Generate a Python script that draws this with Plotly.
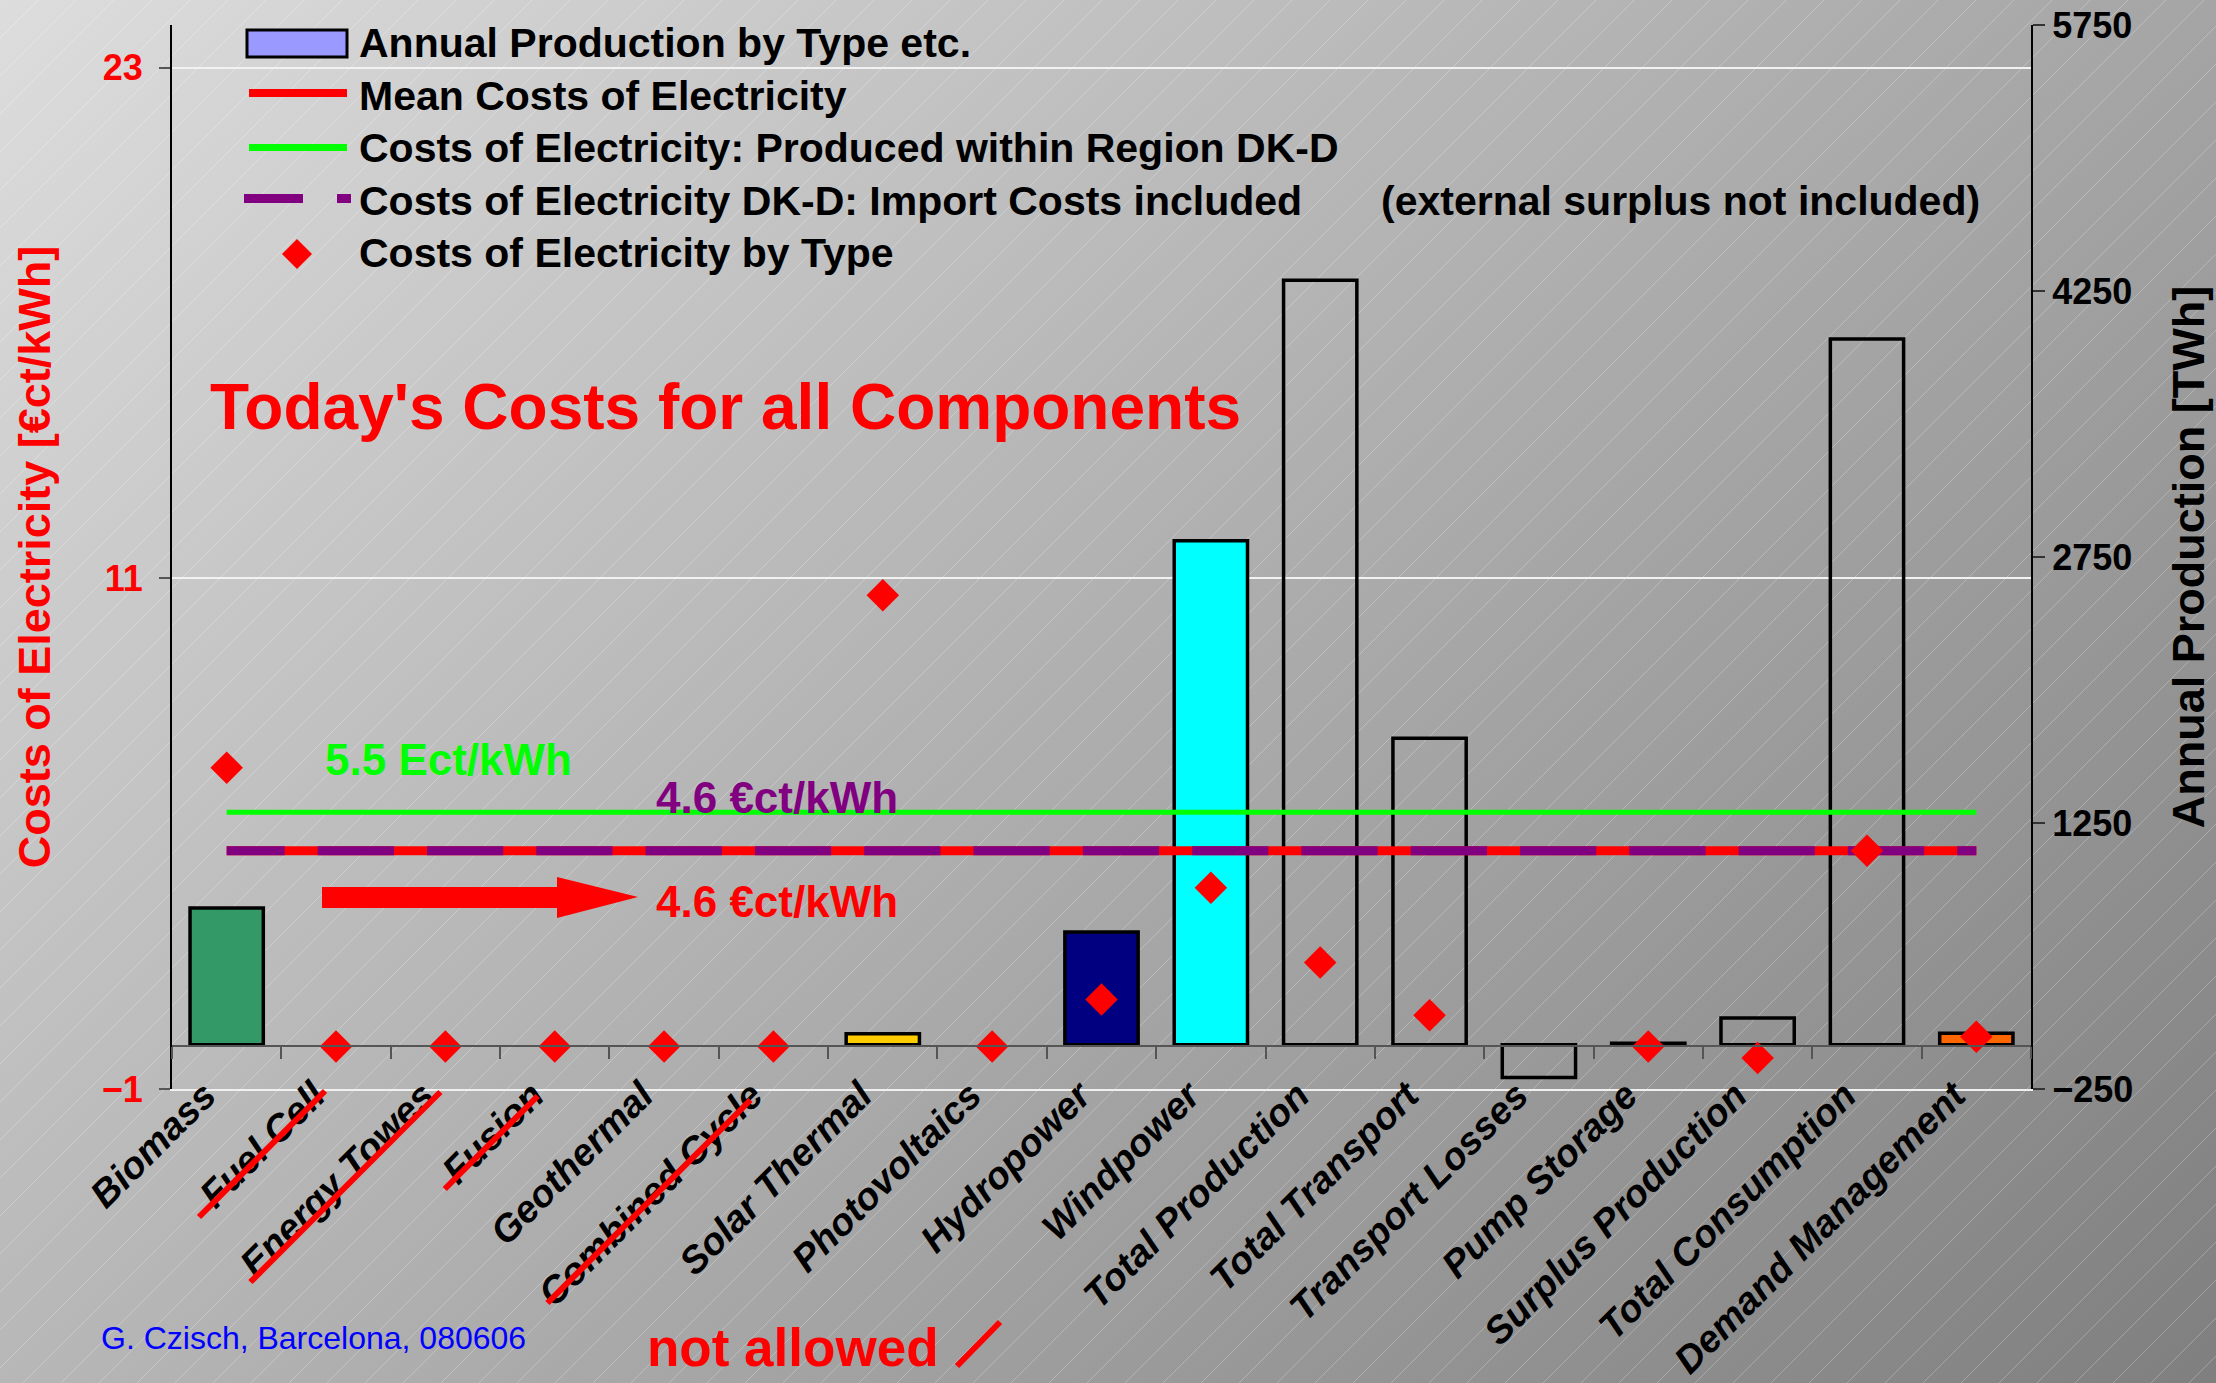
import base64
import plotly.graph_objects as go

# ---- data -------------------------------------------------------------
categories = [
    "Biomass", "Fuel Cell", "Energy Towes", "Fusion", "Geothermal",
    "Combined Cycle", "Solar Thermal", "Photovoltaics", "Hydropower",
    "Windpower", "Total Production", "Total Transport", "Transport Losses",
    "Pump Storage", "Surplus Production", "Total Consumption",
    "Demand Management",
]
production_twh = [770, 0, 0, 0, 0, 0, 62, 0, 636, 2842, 4310, 1728, -185,
                  8, 150, 3980, 65]
cost_by_type = [6.55, 0, 0, 0, 0, 0, 10.6, 0, 1.1, 3.73, 1.97, 0.73, None,
                0, -0.27, 4.6, 0.23]
bar_fill = ["#339966", None, None, None, None, None, "#FFCC00", None,
            "#000080", "#00FFFF", None, None, None, None, None, None,
            "#FF6600"]
mean_cost = 4.6          # mean costs of electricity
regional_cost = 5.5      # produced within region DK-D
import_cost = 4.6        # DK-D incl. import costs
not_allowed = ["Fuel Cell", "Energy Towes", "Fusion", "Combined Cycle"]

left_ticks = [-1, 11, 23]
right_ticks = [-250, 1250, 2750, 4250, 5750]

# ---- page geometry ----------------------------------------------------
W, H = 2216, 1383
L, R, T, B = 172, 185, 25, 294
PW, PH = W - L - R, H - T - B
FONT = "Liberation Sans, Arial, sans-serif"


def fx(px):
    return (px - L) / PW


def fy(py):
    return (H - B - py) / PH


# gradient background with fine diagonal hatching
svg = f"""<svg xmlns='http://www.w3.org/2000/svg' width='{W}' height='{H}' viewBox='0 0 {W} {H}'>
<defs>
<linearGradient id='g' gradientUnits='userSpaceOnUse' x1='0' y1='0' x2='1705' y2='1854'>
<stop offset='0' stop-color='#dddddd'/><stop offset='1' stop-color='#7f7f7f'/></linearGradient>
<pattern id='h' patternUnits='userSpaceOnUse' width='38' height='38'>
<path d='M-1,39 L39,-1 M-1,1 L1,-1 M37,39 L39,37' stroke='#ffffff' stroke-opacity='0.25' stroke-width='1'/></pattern>
</defs>
<rect width='{W}' height='{H}' fill='url(#g)'/>
<rect width='{W}' height='{H}' fill='url(#h)'/>
</svg>"""
bg_src = "data:image/svg+xml;base64," + base64.b64encode(svg.encode()).decode()

fig = go.Figure()

# annual production bars (right axis); empty categories get no outline
fig.add_trace(go.Bar(
    x=categories, y=production_twh, xaxis="x", yaxis="y",
    name="Annual Production by Type etc.",
    marker=dict(color=[c if c else "rgba(0,0,0,0)" for c in bar_fill],
                line=dict(color="black",
                          width=[3.5 if v else 0 for v in production_twh])),
    showlegend=False,
))

n = len(categories)
fig.add_trace(go.Scatter(
    x=categories, y=[regional_cost] * n, xaxis="x2", yaxis="y2",
    mode="lines", line=dict(color="#00FF00", width=5),
    name="Costs of Electricity: Produced within Region DK-D", showlegend=False,
))
fig.add_trace(go.Scatter(
    x=categories, y=[mean_cost] * n, xaxis="x2", yaxis="y2",
    mode="lines", line=dict(color="#FF0000", width=9),
    name="Mean Costs of Electricity", showlegend=False,
))
fig.add_trace(go.Scatter(
    x=categories, y=[import_cost] * n, xaxis="x2", yaxis="y2",
    mode="lines",
    line=dict(color="#800080", width=9, dash="58px,33px,18.3px,0px"),
    name="Costs of Electricity DK-D: Import Costs included", showlegend=False,
))
fig.add_trace(go.Scatter(
    x=categories, y=cost_by_type, xaxis="x2", yaxis="y2",
    mode="markers", marker=dict(symbol="diamond", size=25, color="#FF0000",
                                line=dict(width=0)),
    name="Costs of Electricity by Type", showlegend=False,
))

shapes = []
annotations = []

# hand-drawn legend block
shapes.append(dict(type="rect", xref="paper", yref="paper",
                   x0=fx(247), x1=fx(347), y0=fy(57), y1=fy(30),
                   fillcolor="#9999FF", line=dict(color="black", width=3)))
shapes.append(dict(type="line", xref="paper", yref="paper",
                   x0=fx(249), x1=fx(347), y0=fy(93), y1=fy(93),
                   line=dict(color="#FF0000", width=8)))
shapes.append(dict(type="line", xref="paper", yref="paper",
                   x0=fx(249), x1=fx(347), y0=fy(147.5), y1=fy(147.5),
                   line=dict(color="#00FF00", width=7)))
for a, b in [(244, 303), (337, 351)]:
    shapes.append(dict(type="line", xref="paper", yref="paper",
                       x0=fx(a), x1=fx(b), y0=fy(198.5), y1=fy(198.5),
                       line=dict(color="#800080", width=9)))
cx, cy, r = 297, 254, 15
shapes.append(dict(
    type="path", xref="paper", yref="paper",
    path=(f"M{fx(cx)},{fy(cy - r)} L{fx(cx + r)},{fy(cy)} "
          f"L{fx(cx)},{fy(cy + r)} L{fx(cx - r)},{fy(cy)} Z"),
    fillcolor="#FF0000", line=dict(width=0)))

legend_font = dict(family=FONT, size=41, color="black", weight="bold")
legend_rows = [
    ("Annual Production by Type etc.", 42.5),
    ("Mean Costs of Electricity", 96),
    ("Costs of Electricity: Produced within Region DK-D", 148),
    ("Costs of Electricity DK-D: Import Costs included", 201),
    ("Costs of Electricity by Type", 253.5),
]
for txt, yy in legend_rows:
    annotations.append(dict(text=txt, xref="paper", yref="paper",
                            x=fx(357), y=fy(yy), xanchor="left",
                            yanchor="middle", showarrow=False,
                            font=legend_font))
annotations.append(dict(text="(external surplus not included)", xref="paper",
                        yref="paper", x=fx(1379), y=fy(201), xanchor="left",
                        yanchor="middle", showarrow=False, font=legend_font))

# headline and value labels
annotations.append(dict(text="Today's Costs for all Components", xref="paper",
                        yref="paper", x=fx(208), y=fy(407), xanchor="left",
                        yanchor="middle", showarrow=False,
                        font=dict(family=FONT, size=64, color="#FF0000",
                                  weight="bold")))
annotations.append(dict(text=f"{regional_cost} Ect/kWh", xref="paper",
                        yref="paper", x=fx(323), y=fy(759), xanchor="left",
                        yanchor="middle", showarrow=False,
                        font=dict(family=FONT, size=44, color="#00FF00",
                                  weight="bold")))
annotations.append(dict(text=f"{import_cost} €ct/kWh", xref="paper",
                        yref="paper", x=fx(654), y=fy(797), xanchor="left",
                        yanchor="middle", showarrow=False,
                        font=dict(family=FONT, size=44, color="#800080",
                                  weight="bold")))
annotations.append(dict(text=f"{mean_cost} €ct/kWh", xref="paper",
                        yref="paper", x=fx(654), y=fy(901), xanchor="left",
                        yanchor="middle", showarrow=False,
                        font=dict(family=FONT, size=44, color="#FF0000",
                                  weight="bold")))

# red arrow pointing at the mean cost label
arrow = [(322, 887), (557, 887), (557, 877), (638, 897), (557, 918),
         (557, 908), (322, 908)]
shapes.append(dict(
    type="path", xref="paper", yref="paper",
    path="M" + " L".join(f"{fx(a)},{fy(b)}" for a, b in arrow) + " Z",
    fillcolor="#FF0000", line=dict(width=0)))

# strike-through for technologies that are not allowed
strike = {"Fuel Cell": (11, 2, 126), "Energy Towes": (5, 3, 190),
          "Fusion": (17, 7, 93), "Combined Cycle": (23, 11, 203)}
for name in not_allowed:
    i = categories.index(name)
    cxp = L + (i + 0.5) * PW / n
    dx, dy, ln = strike[name]
    x1, y1 = cxp - dx, H - B + dy
    shapes.append(dict(type="line", xref="paper", yref="paper",
                       x0=fx(x1 - ln), y0=fy(y1 + ln), x1=fx(x1), y1=fy(y1),
                       line=dict(color="#FF0000", width=6)))

annotations.append(dict(text="not allowed", xref="paper", yref="paper",
                        x=fx(645), y=fy(1347), xanchor="left",
                        yanchor="middle", showarrow=False,
                        font=dict(family=FONT, size=53, color="#FF0000",
                                  weight="bold")))
shapes.append(dict(type="line", xref="paper", yref="paper",
                   x0=fx(957), y0=fy(1366), x1=fx(1000), y1=fy(1322),
                   line=dict(color="#FF0000", width=6)))
annotations.append(dict(text="G. Czisch, Barcelona, 080606", xref="paper",
                        yref="paper", x=fx(99), y=fy(1338), xanchor="left",
                        yanchor="middle", showarrow=False,
                        font=dict(family=FONT, size=32, color="#0000FF")))

axis_font = dict(family=FONT, size=36, weight="bold")

fig.update_layout(
    width=W, height=H, autosize=False,
    margin=dict(l=L, r=R, t=T, b=B, pad=0),
    paper_bgcolor="#b0b0b0", plot_bgcolor="rgba(0,0,0,0)",
    showlegend=False, bargap=0.33,
    images=[dict(source=bg_src, xref="paper", yref="paper",
                 x=fx(0), y=fy(0), sizex=W / PW, sizey=H / PH,
                 xanchor="left", yanchor="top", sizing="stretch",
                 layer="below")],
    xaxis=dict(
        type="category", categoryorder="array", categoryarray=categories,
        range=[-0.5, n - 0.5], tickangle=-45, ticks="",
        tickfont=dict(family=FONT, size=38, color="black", weight="bold",
                      style="italic"),
        ticklabelstandoff=-33, ticklabelshift=-22,
        showline=True, linecolor="#f0f0f0", linewidth=2, showgrid=False,
        automargin=False, anchor="y",
    ),
    xaxis2=dict(
        type="category", categoryorder="array", categoryarray=categories,
        range=[-0.5, n - 0.5], overlaying="x", anchor="free",
        position=(0 - left_ticks[0]) / (24 - left_ticks[0]),
        tickson="boundaries", ticks="outside", ticklen=12, tickwidth=2,
        tickcolor="#555555", showline=True, linecolor="#555555", linewidth=2,
        showticklabels=False, showgrid=False, automargin=False,
    ),
    yaxis=dict(
        side="right", range=[-250, 5750], tickvals=right_ticks,
        ticks="outside", ticklen=12, tickwidth=2, tickcolor="#333333",
        showline=True, linecolor="black", linewidth=2, showgrid=False,
        zeroline=False, tickfont=dict(axis_font, color="black"),
        title=dict(text="Annual Production [TWh]", standoff=40,
                   font=dict(family=FONT, size=45, color="black",
                             weight="bold")),
        automargin=False,
    ),
    yaxis2=dict(
        side="left", overlaying="y", range=[-1, 24], tickvals=left_ticks,
        ticks="outside", ticklen=11, tickwidth=2, tickcolor="#555555",
        ticklabelstandoff=9,
        showline=True, linecolor="black", linewidth=2, showgrid=True,
        gridcolor="#f2f2f2", gridwidth=2, zeroline=False,
        tickfont=dict(axis_font, color="#FF0000"),
        title=dict(text="Costs of Electricity [€ct/kWh]", standoff=37,
                   font=dict(family=FONT, size=45, color="#FF0000",
                             weight="bold")),
        automargin=False,
    ),
    shapes=shapes, annotations=annotations,
)

fig.write_html("out.html")
